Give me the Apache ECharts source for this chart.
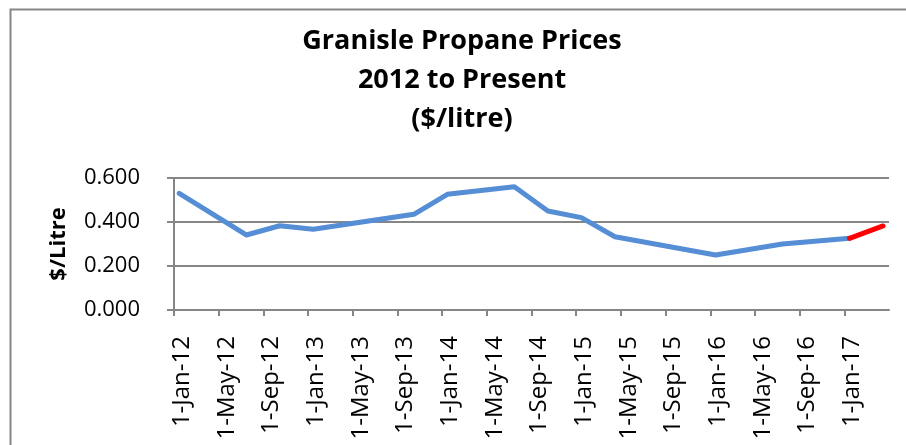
<!DOCTYPE html>
<html>
<head>
<meta charset="utf-8">
<script src="https://cdn.jsdelivr.net/npm/echarts@6/dist/echarts.min.js"></script>
<style>
  html, body { margin: 0; padding: 0; background: #fff; }
  #main { width: 906px; height: 445px; }
</style>
</head>
<body>
<div id="main"></div>
<script>
// 读图得到的数据 (quarterly readings)
var priceDates = ["2012-01-15", "2012-07-15", "2012-10-15", "2013-01-15", "2013-10-15", "2014-01-15",
  "2014-07-15", "2014-10-15", "2015-01-15", "2015-04-15", "2016-01-15", "2016-07-15", "2017-01-15"];
var prices = [0.530, 0.341, 0.383, 0.367, 0.435, 0.526, 0.560, 0.450, 0.420, 0.333, 0.250, 0.300, 0.326];
var latestDates = ["2017-01-15", "2017-04-15"];
var latestPrices = [0.326, 0.382];
var monthNames = ["Jan", "Feb", "Mar", "Apr", "May", "Jun", "Jul", "Aug", "Sep", "Oct", "Nov", "Dec"];
var yTicks = [0, 0.2, 0.4, 0.6];

// months since 1-Jan-12
function toMonth(s) {
  var p = s.split("-");
  return (+p[0] - 2012) * 12 + (+p[1] - 1) + (+p[2] - 1) / 30;
}
function pairs(ds, vs) {
  var out = [];
  for (var i = 0; i < ds.length; i++) out.push([toMonth(ds[i]), vs[i]]);
  return out;
}

var myChart = echarts.init(document.getElementById("main"));
var grey = "#868686";
var font = "Open Sans";

var option = {
  animation: false,
  textStyle: { fontFamily: font, color: "#000" },
  graphic: [{
    type: "rect", left: 8, top: 7, silent: true,
    shape: { width: 1000, height: 1000 },
    style: { fill: null, stroke: grey, lineWidth: 2 }
  }],
  title: {
    text: "Granisle Propane Prices\n2012 to Present\n($/litre)",
    left: 462, top: 22, textAlign: "center", padding: 0,
    textStyle: { fontFamily: font, fontWeight: "bold", fontSize: 27, lineHeight: 39, color: "#000" }
  },
  grid: { left: 174, right: 17, top: 178, bottom: 135, containLabel: false, outerBoundsMode: "none" },
  xAxis: {
    type: "value", min: 0, max: 64, interval: 4,
    axisLine: { lineStyle: { color: grey, width: 2 } },
    axisTick: { show: true, length: 6, lineStyle: { color: grey, width: 2 } },
    splitLine: { show: false },
    axisLabel: {
      rotate: 90, margin: 26, fontSize: 24, color: "#000", fontFamily: font,
      showMaxLabel: false, verticalAlign: "top", lineHeight: 16,
      formatter: function (v) {
        if (v >= 64) return "";
        var y = 12 + Math.floor(v / 12);
        return "1-" + monthNames[v % 12] + "-" + y;
      }
    }
  },
  yAxis: {
    type: "value", min: yTicks[0], max: yTicks[yTicks.length - 1], interval: 0.2,
    name: "$/Litre", nameLocation: "middle", nameGap: 104,
    nameTextStyle: { fontFamily: font, fontWeight: "bold", fontSize: 22, color: "#000" },
    axisLine: { show: true, lineStyle: { color: grey, width: 2 } },
    axisTick: { show: true, length: 7, lineStyle: { color: grey, width: 2 } },
    splitLine: { lineStyle: { color: grey, width: 2 } },
    axisLabel: {
      margin: 34, fontSize: 22, color: "#000", fontFamily: font,
      formatter: function (v) { return v.toFixed(3); }
    }
  },
  series: [
    {
      type: "line", data: pairs(priceDates, prices), showSymbol: false,
      lineStyle: { color: "#558ed5", width: 5, cap: "round", join: "round" }, z: 2
    },
    {
      type: "line", data: pairs(latestDates, latestPrices), showSymbol: false,
      lineStyle: { color: "#ff0000", width: 5, cap: "round", join: "round" }, z: 3
    }
  ]
};
myChart.setOption(option);
</script>
</body>
</html>
